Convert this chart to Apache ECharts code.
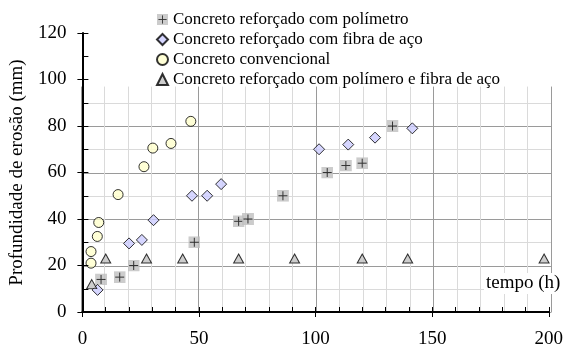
<!DOCTYPE html>
<html><head><meta charset="utf-8">
<script src="https://cdn.jsdelivr.net/npm/echarts@6/dist/echarts.min.js"></script>
<style>html,body{margin:0;padding:0;background:#fff}#c{width:566px;height:349px}</style>
</head><body><div id="c"></div>
<script>
var seriesNames = ['Concreto reforçado com polímetro','Concreto reforçado com fibra de aço','Concreto convencional','Concreto reforçado com polímero e fibra de aço'];
var timesPol = [8,16,22,48,67,71,86,105,113,120,133];
var depthPol = [14,15,20,30,39,40,50,60,63,64,80];
var timesFib = [6.5,20,25.5,30.5,47,53.5,59.5,101.5,114,125.5,141.5];
var depthFib = [9.5,29.5,31,39.5,50,50,55,70,72,75,79];
var timesConv = [3.7,3.7,6.4,7,15.3,26.4,30.2,38,46.5];
var depthConv = [21,26,32.5,38.5,50.5,62.5,70.5,72.5,82];
var timesPF = [4,10,27.5,43,67,91,120,139.5,198];
var depthPF = [12,23,23,23,23,23,23,23,23];
var xTicks = [0,50,100,150,200];
var yTicks = [0,20,40,60,80,100,120];
var xAxisName = 'tempo (h)';
var yAxisName = 'Profundidade de erosão (mm)';

function pairs(a,b){return a.map(function(v,i){return [v,b[i]];});}
var FONT = 'Liberation Serif';
var MAJ = '#9a9a9a', MIN = '#dadada';
var plusSvg = "<svg xmlns='http://www.w3.org/2000/svg' width='24' height='24' viewBox='0 0 12 12'><rect width='12' height='12' fill='#c0c0c0'/><path d='M6 1.5v9M1.5 6h9' stroke='#000' stroke-width='1'/></svg>";
var plusSym = 'image://data:image/svg+xml;charset=utf-8,' + encodeURIComponent(plusSvg);

var L = 81, R = 15, T = 33, B = 36.5;
var H = 349 - T - B;
var gridMax = 97;
var TB = 349 - B - gridMax * H / 120;

var chart = echarts.init(document.getElementById('c'));
chart.setOption({
  animation: false,
  backgroundColor: '#fff',
  textStyle: {fontFamily: FONT},
  grid: [
    {left: L, right: R, top: TB, bottom: B},
    {left: L, right: R, top: T, bottom: B}
  ],
  xAxis: [
    {gridIndex: 0, type: 'value', min: 0, max: 200, interval: 10, z: -1,
     axisLine: {show: false}, axisTick: {show: false}, axisLabel: {show: false},
     splitLine: {show: true, showMinLine: true, showMaxLine: true, lineStyle: {color: [MAJ, MIN, MIN, MIN, MIN], width: 1}}},
    {gridIndex: 1, type: 'value', min: 0, max: 200, interval: 50, position: 'bottom', offset: 0, z: 5,
     axisLine: {show: true, onZero: false, lineStyle: {color: '#000', width: 2}},
     axisTick: {show: true, inside: true, length: 5, lineStyle: {color: '#000', width: 1}},
     minorTick: {show: true, splitNumber: 5, length: 5, lineStyle: {color: '#000', width: 1}},
     axisLabel: {show: true, margin: 18, color: '#000', fontFamily: FONT, fontSize: 19,
       formatter: function(v){return xTicks.indexOf(v) >= 0 ? String(v) : '';}},
     splitLine: {show: false}},
    {gridIndex: 1, type: 'value', min: 0, max: 200, interval: 50, position: 'bottom', offset: 0, z: 5,
     axisLine: {show: false, onZero: false},
     axisTick: {show: true, inside: false, length: 5, lineStyle: {color: '#000', width: 1}},
     axisLabel: {show: false}, splitLine: {show: false}}
  ],
  yAxis: [
    {gridIndex: 0, type: 'value', min: 0, max: gridMax, interval: 10, z: -1,
     axisLine: {show: false}, axisTick: {show: false}, axisLabel: {show: false},
     splitLine: {show: true, showMinLine: true, showMaxLine: false, lineStyle: {color: [MAJ, MIN], width: 1}}},
    {gridIndex: 1, type: 'value', min: 0, max: 120, interval: 20, position: 'left', offset: 0, z: 5,
     name: yAxisName, nameLocation: 'middle', nameGap: 54,
     nameTextStyle: {color: '#000', fontFamily: FONT, fontSize: 19},
     axisLine: {show: true, onZero: false, lineStyle: {color: '#000', width: 2}},
     axisTick: {show: true, inside: true, length: 6, lineStyle: {color: '#000', width: 1}},
     minorTick: {show: true, splitNumber: 2, length: 6, lineStyle: {color: '#000', width: 1}},
     axisLabel: {show: true, margin: 16, color: '#000', fontFamily: FONT, fontSize: 19,
       formatter: function(v){return yTicks.indexOf(v) >= 0 ? String(v) : '';}},
     splitLine: {show: false}},
    {gridIndex: 1, type: 'value', min: 0, max: 120, interval: 20, position: 'left', offset: 0, z: 5,
     axisLine: {show: false, onZero: false},
     axisTick: {show: true, inside: false, length: 5, lineStyle: {color: '#000', width: 1}},
     axisLabel: {show: false}, splitLine: {show: false}}
  ],
  title: {
    text: xAxisName, left: 484, top: 273, padding: [1, 2],
    backgroundColor: '#fff',
    textStyle: {color: '#000', fontFamily: FONT, fontSize: 19, fontWeight: 'normal'}
  },
  legend: {
    orient: 'vertical', left: 156, top: 11, itemGap: 3, itemWidth: 11, itemHeight: 11,
    backgroundColor: 'transparent', padding: 0,
    textStyle: {color: '#000', fontFamily: FONT, fontSize: 17, lineHeight: 16},
    data: seriesNames
  },
  series: [
    {name: seriesNames[0], type: 'scatter', xAxisIndex: 1, yAxisIndex: 1,
     symbol: plusSym, symbolSize: 12, data: pairs(timesPol, depthPol),
     itemStyle: {color: '#c0c0c0'}},
    {name: seriesNames[1], type: 'scatter', xAxisIndex: 1, yAxisIndex: 1,
     symbol: 'diamond', symbolSize: 11, data: pairs(timesFib, depthFib),
     itemStyle: {color: '#ccccff', borderColor: '#000', borderWidth: 1}},
    {name: seriesNames[2], type: 'scatter', xAxisIndex: 1, yAxisIndex: 1,
     symbol: 'circle', symbolSize: 10, data: pairs(timesConv, depthConv),
     itemStyle: {color: '#ffffcc', borderColor: '#000', borderWidth: 1}},
    {name: seriesNames[3], type: 'scatter', xAxisIndex: 1, yAxisIndex: 1,
     symbol: 'triangle', symbolSize: [10, 9], data: pairs(timesPF, depthPF),
     itemStyle: {color: '#c0c0c0', borderColor: '#000', borderWidth: 1}}
  ]
});
</script></body></html>
